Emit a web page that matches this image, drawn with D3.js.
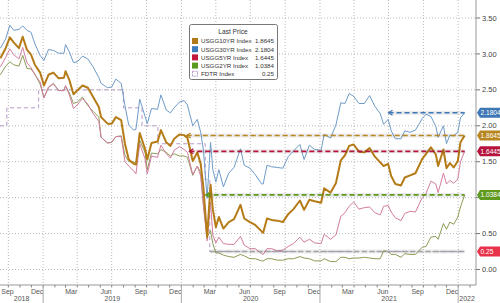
<!DOCTYPE html>
<html>
<head>
<meta charset="utf-8">
<script src="https://cdn.jsdelivr.net/npm/d3@7"></script>
<style>
  body { margin: 0; background: #fff; }
  svg { display: block; font-family: "Liberation Sans", Arial, sans-serif; }
</style>
</head>
<body>
<svg id="chart" width="500" height="303"></svg>
<script>
// observation dates shared by the four treasury series
const dates = [
  '2018-09-10','2018-09-24','2018-10-05','2018-10-15','2018-10-29','2018-11-08','2018-11-19','2018-11-30','2018-12-10','2018-12-24',
  '2019-01-03','2019-01-15','2019-01-28','2019-02-11','2019-02-25','2019-03-01','2019-03-11','2019-03-22','2019-04-01','2019-04-15',
  '2019-04-29','2019-05-13','2019-05-28','2019-06-03','2019-06-20','2019-07-01','2019-07-12','2019-07-26','2019-08-05','2019-08-15',
  '2019-08-28','2019-09-03','2019-09-13','2019-09-27','2019-10-03','2019-10-14','2019-10-30','2019-11-08','2019-11-22','2019-12-03',
  '2019-12-13','2019-12-27','2020-01-08','2020-01-17','2020-01-31','2020-02-12','2020-02-21','2020-02-28','2020-03-09','2020-03-18',
  '2020-03-24','2020-04-01','2020-04-09','2020-04-21','2020-05-05','2020-05-19','2020-06-05','2020-06-15','2020-06-30','2020-07-14',
  '2020-07-31','2020-08-04','2020-08-14','2020-08-26','2020-09-10','2020-09-25','2020-10-09','2020-10-23','2020-11-09','2020-11-20',
  '2020-12-04','2020-12-18','2021-01-04','2021-01-12','2021-01-29','2021-02-12','2021-02-25','2021-03-08','2021-03-19','2021-03-31',
  '2021-04-14','2021-04-28','2021-05-12','2021-05-26','2021-06-09','2021-06-18','2021-06-30','2021-07-08','2021-07-19','2021-08-03',
  '2021-08-13','2021-08-27','2021-09-10','2021-09-28','2021-10-08','2021-10-21','2021-11-03','2021-11-09','2021-11-23','2021-12-01',
  '2021-12-10','2021-12-20','2021-12-31','2022-01-07','2022-01-18'
];

const usgg10 = [
  2.94, 3.08, 3.23, 3.16, 3.08, 3.24, 3.06, 2.99, 2.85, 2.74,
  2.56, 2.71, 2.74, 2.66, 2.67, 2.76, 2.64, 2.44, 2.49, 2.56,
  2.53, 2.40, 2.26, 2.12, 2.03, 2.03, 2.12, 2.08, 1.75, 1.53,
  1.47, 1.46, 1.90, 1.68, 1.53, 1.76, 1.78, 1.94, 1.77, 1.72,
  1.82, 1.88, 1.87, 1.83, 1.51, 1.63, 1.47, 1.15, 0.45, 1.18,
  0.84, 0.59, 0.73, 0.57, 0.66, 0.70, 0.90, 0.71, 0.66, 0.62,
  0.53, 0.51, 0.71, 0.69, 0.68, 0.66, 0.77, 0.84, 0.96, 0.83,
  0.97, 0.95, 0.93, 1.13, 1.07, 1.20, 1.52, 1.59, 1.72, 1.74,
  1.64, 1.63, 1.69, 1.57, 1.49, 1.44, 1.47, 1.30, 1.19, 1.17,
  1.28, 1.31, 1.34, 1.54, 1.61, 1.70, 1.60, 1.44, 1.67, 1.41,
  1.48, 1.42, 1.51, 1.77, 1.8645
];

const usgg30 = [
  3.08, 3.21, 3.40, 3.33, 3.34, 3.39, 3.33, 3.30, 3.14, 2.98,
  2.91, 3.06, 3.05, 3.01, 3.01, 3.13, 3.03, 2.88, 2.89, 2.97,
  2.93, 2.82, 2.67, 2.59, 2.53, 2.54, 2.65, 2.59, 2.28, 2.01,
  1.94, 1.95, 2.37, 2.13, 2.03, 2.24, 2.23, 2.43, 2.22, 2.18,
  2.25, 2.33, 2.35, 2.29, 2.00, 2.09, 1.91, 1.67, 0.99, 1.77,
  1.39, 1.22, 1.39, 1.15, 1.34, 1.42, 1.68, 1.45, 1.41, 1.32,
  1.19, 1.19, 1.45, 1.43, 1.42, 1.41, 1.57, 1.65, 1.74, 1.53,
  1.73, 1.67, 1.66, 1.88, 1.83, 2.01, 2.32, 2.31, 2.45, 2.41,
  2.31, 2.31, 2.42, 2.27, 2.17, 2.02, 2.09, 1.93, 1.82, 1.82,
  1.93, 1.91, 1.94, 2.10, 2.16, 2.13, 1.99, 1.84, 2.00, 1.75,
  1.87, 1.86, 1.91, 2.11, 2.1804
];

const usgg5 = [
  2.82, 2.95, 3.07, 2.99, 2.93, 3.09, 2.88, 2.81, 2.71, 2.61,
  2.39, 2.54, 2.58, 2.49, 2.49, 2.56, 2.43, 2.24, 2.29, 2.38,
  2.30, 2.17, 2.06, 1.84, 1.76, 1.77, 1.85, 1.85, 1.50, 1.44,
  1.37, 1.33, 1.75, 1.54, 1.33, 1.58, 1.56, 1.73, 1.61, 1.55,
  1.66, 1.71, 1.67, 1.63, 1.32, 1.44, 1.30, 0.89, 0.40, 0.94,
  0.48, 0.37, 0.45, 0.36, 0.35, 0.35, 0.46, 0.34, 0.29, 0.29,
  0.22, 0.21, 0.29, 0.29, 0.26, 0.27, 0.32, 0.36, 0.45, 0.38,
  0.42, 0.37, 0.36, 0.49, 0.42, 0.48, 0.74, 0.79, 0.88, 0.94,
  0.84, 0.86, 0.87, 0.79, 0.76, 0.88, 0.89, 0.80, 0.72, 0.68,
  0.78, 0.81, 0.80, 1.00, 1.06, 1.23, 1.19, 1.07, 1.34, 1.19,
  1.24, 1.20, 1.26, 1.50, 1.6445
];

const usgg2 = [
  2.71, 2.83, 2.89, 2.85, 2.83, 2.98, 2.80, 2.79, 2.72, 2.58,
  2.39, 2.53, 2.59, 2.49, 2.49, 2.55, 2.46, 2.31, 2.33, 2.40,
  2.28, 2.20, 2.12, 1.84, 1.76, 1.77, 1.85, 1.86, 1.59, 1.50,
  1.50, 1.46, 1.80, 1.63, 1.39, 1.62, 1.61, 1.67, 1.63, 1.58,
  1.61, 1.58, 1.58, 1.56, 1.31, 1.44, 1.35, 0.91, 0.45, 0.54,
  0.36, 0.23, 0.23, 0.20, 0.18, 0.17, 0.21, 0.19, 0.15, 0.15,
  0.12, 0.12, 0.15, 0.15, 0.13, 0.13, 0.15, 0.15, 0.18, 0.16,
  0.15, 0.12, 0.12, 0.15, 0.11, 0.11, 0.17, 0.17, 0.15, 0.16,
  0.16, 0.17, 0.16, 0.15, 0.15, 0.26, 0.25, 0.21, 0.21, 0.17,
  0.22, 0.21, 0.21, 0.31, 0.32, 0.45, 0.46, 0.42, 0.64, 0.56,
  0.66, 0.63, 0.73, 0.87, 1.0384
];

// fed funds target (upper bound), step changes
const fdtrDates = ['2018-09-09','2018-09-27','2018-12-20','2019-08-01','2019-09-19','2019-10-31','2020-03-04','2020-03-16','2022-01-18'];
const fdtrValues = [2.00, 2.25, 2.50, 2.25, 2.00, 1.75, 1.25, 0.25, 0.25];

const seriesNames = ['USGG10YR Index', 'USGG30YR Index', 'USGG5YR Index', 'USGG2YR Index', 'FDTR Index'];
const lastPrices = ['1.8645', '2.1804', '1.6445', '1.0384', '0.25'];
const lastLineStart = ['2020-01-15', '2021-07-01', '2020-01-22', '2020-03-05', '2020-03-16'];
const yTicks = [0, 0.5, 1, 1.5, 2, 2.5, 3, 3.5];

const svg = d3.select('#chart');
const plotRight = 476, plotBottom = 285;
const parse = d3.timeParse('%Y-%m-%d');

const x = d3.scaleTime([new Date(2018, 8, 9), new Date(2022, 1, 17)], [0, plotRight]);
const y = d3.scaleLinear([0, 3.5], [269.5, 18]);

const styles = [
  { line: '#b57b17', width: 2, box: '#b8861e', key: '#b07a1a' },
  { line: '#6e9bc8', width: 1, box: '#3f77b5', key: '#3c7cc0' },
  { line: '#d27da0', width: 1, box: '#b5153d', key: '#c4193f' },
  { line: '#8a9c55', width: 1, box: '#5f9a1f', key: '#5a9a1c' },
  { line: '#b69ac6', width: 1, box: '#e8334a', key: null }
];

const toPoints = (ds, vs) => ds.map((d, i) => ({ date: parse(d), value: vs[i] }));
const series = [usgg10, usgg30, usgg5, usgg2].map(vs => toPoints(dates, vs));
const fdtr = toPoints(fdtrDates, fdtrValues);

/*
Grid
*/
svg.append('g').selectAll('line').data(yTicks).join('line')
  .attr('x1', 0).attr('x2', plotRight)
  .attr('y1', d => y(d)).attr('y2', d => y(d))
  .style('stroke', '#b9b9b9').style('stroke-dasharray', '1,2');

const quarters = d3.timeMonth.every(3).range(x.domain()[0], x.domain()[1]);
svg.append('g').selectAll('line').data(quarters).join('line')
  .attr('x1', d => x(d)).attr('x2', d => x(d))
  .attr('y1', 0).attr('y2', plotBottom)
  .style('stroke', '#b9b9b9').style('stroke-dasharray', '1,2');

/*
Lines
*/
const line = d3.line().x(d => x(d.date)).y(d => y(d.value));

svg.append('path').datum(fdtr)
  .attr('d', line.curve(d3.curveStepAfter))
  .style('fill', 'none').style('stroke', styles[4].line)
  .style('stroke-width', 1).style('stroke-dasharray', '4,3');
line.curve(d3.curveLinear);

[3, 2, 1, 0].forEach(i => {
  svg.append('path').datum(series[i])
    .attr('d', line)
    .style('fill', 'none')
    .style('stroke', styles[i].line)
    .style('stroke-width', styles[i].width)
    .style('stroke-linejoin', 'round');
});

/*
Last price lines
*/
const lastDate = parse(dates[dates.length - 1]);
lastPrices.forEach((p, i) => {
  const x0 = x(parse(lastLineStart[i])), x1 = x(lastDate), yy = y(+p);
  const col = i === 4 ? '#a3a3a3' : styles[i].box;
  svg.append('line').attr('x1', x0).attr('x2', x1).attr('y1', yy).attr('y2', yy)
    .style('stroke', '#000').style('stroke-opacity', 0.08).style('stroke-width', 4);
  svg.append('line').attr('x1', x0).attr('x2', x1).attr('y1', yy).attr('y2', yy)
    .style('stroke', col).style('stroke-width', 1.6).style('stroke-dasharray', '5,3');
  if (i < 4) {
    svg.append('path')
      .attr('d', `M${x0 + 4},${yy - 2.5}L${x0},${yy}L${x0 + 4},${yy + 2.5}`)
      .style('fill', 'none').style('stroke', col).style('stroke-width', 1.2);
  }
});

/*
Axes
*/
svg.append('line').attr('x1', plotRight).attr('x2', plotRight).attr('y1', 0).attr('y2', plotBottom)
  .style('stroke', '#999');
svg.append('line').attr('x1', 0).attr('x2', plotRight).attr('y1', plotBottom).attr('y2', plotBottom)
  .style('stroke', '#999');

svg.append('g').selectAll('line').data(yTicks).join('line')
  .attr('x1', plotRight).attr('x2', plotRight + 4)
  .attr('y1', d => y(d)).attr('y2', d => y(d))
  .style('stroke', '#777');
// tick labels hidden behind a value box are left out, as in the original
const freeTicks = yTicks.filter(t => lastPrices.every(p => Math.abs(y(t) - y(+p)) > 6));
svg.append('g').selectAll('text').data(freeTicks).join('text')
  .attr('x', plotRight + 6).attr('y', d => y(d) + 2.6)
  .style('font-size', '7.5px').style('fill', '#444')
  .text(d => d3.format('.2f')(d));

const months = d3.timeMonth.range(d3.timeMonth.ceil(x.domain()[0]), x.domain()[1]);
svg.append('g').selectAll('line').data(months).join('line')
  .attr('x1', d => x(d)).attr('x2', d => x(d))
  .attr('y1', plotBottom).attr('y2', plotBottom + 2.5)
  .style('stroke', '#888');

const labelled = d3.timeMonth.range(d3.timeMonth.floor(x.domain()[0]), x.domain()[1])
  .filter(d => d.getMonth() % 3 === 2);
svg.append('g').selectAll('text').data(labelled).join('text')
  .attr('x', d => Math.max(7.5, x(d3.timeDay.offset(d, 15))))
  .attr('y', plotBottom + 9)
  .attr('text-anchor', 'middle')
  .style('font-size', '7px').style('fill', '#555')
  .text(d3.timeFormat('%b'));

const years = d3.timeYear.range(d3.timeYear.floor(x.domain()[0]), x.domain()[1]);
svg.append('g').selectAll('line').data(years.slice(1)).join('line')
  .attr('x1', d => x(d)).attr('x2', d => x(d))
  .attr('y1', plotBottom).attr('y2', 303)
  .style('stroke', '#aaa');
svg.append('g').selectAll('text').data(years).join('text')
  .attr('x', d => {
    const a = Math.max(0, x(d)), b = Math.min(plotRight, x(d3.timeYear.offset(d, 1)));
    return (a + b) / 2;
  })
  .attr('y', plotBottom + 16)
  .attr('text-anchor', 'middle')
  .style('font-size', '7px').style('fill', '#555')
  .text(d3.timeFormat('%Y'));

/*
Right-hand value boxes
*/
lastPrices.forEach((p, i) => {
  const yy = y(+p);
  const g = svg.append('g');
  g.append('path')
    .attr('d', `M${plotRight + 1},${yy}L${plotRight + 4},${yy - 5}H500V${yy + 5}H${plotRight + 4}Z`)
    .style('fill', styles[i].box);
  g.append('text').attr('x', plotRight + 4.5).attr('y', yy + 2.4)
    .style('font-size', '6.6px').style('fill', '#fff')
    .text(p);
});

/*
Legend
*/
const lg = svg.append('g').attr('transform', 'translate(189,24)');
lg.append('rect').attr('x', 0.5).attr('y', 0.5).attr('width', 88).attr('height', 55).attr('rx', 2)
  .style('fill', '#fff').style('stroke', '#777');
lg.append('text').attr('x', 44).attr('y', 10).attr('text-anchor', 'middle')
  .style('font-size', '6.6px').style('fill', '#333').text('Last Price');
seriesNames.forEach((name, i) => {
  const ry = 17 + i * 8.2;
  if (styles[i].key) {
    lg.append('rect').attr('x', 3).attr('y', ry - 3).attr('width', 6).attr('height', 6)
      .style('fill', styles[i].key);
  } else {
    lg.append('rect').attr('x', 3.5).attr('y', ry - 2.5).attr('width', 5).attr('height', 5)
      .style('fill', 'none').style('stroke', styles[i].line).style('stroke-dasharray', '2,1');
  }
  lg.append('text').attr('x', 12).attr('y', ry + 2.3)
    .style('font-size', '6.2px').style('fill', '#333').text(name);
  lg.append('text').attr('x', 85).attr('y', ry + 2.3).attr('text-anchor', 'end')
    .style('font-size', '6.2px').style('fill', '#333').text(lastPrices[i]);
});
</script>
</body>
</html>
